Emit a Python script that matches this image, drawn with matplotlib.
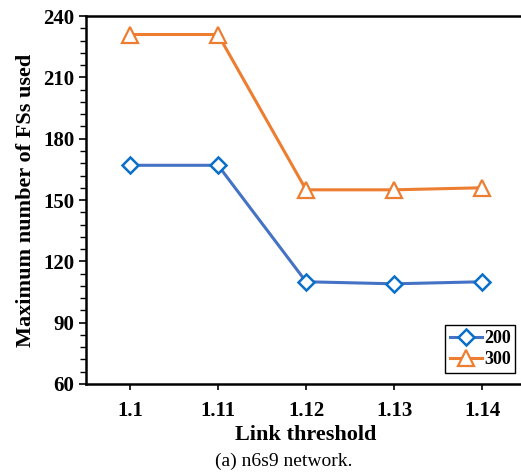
import matplotlib.pyplot as plt
from matplotlib.ticker import MultipleLocator

plt.rcParams['font.family'] = ['Liberation Serif', 'DejaVu Serif']

thresholds = ['1.1', '1.11', '1.12', '1.13', '1.14']
fs_200 = [167, 167, 110, 109, 110]
fs_300 = [231, 231, 155, 155, 156]

fig = plt.figure(figsize=(5.21, 4.74), dpi=100)
ax = fig.add_axes([0.165, 0.19, 0.845, 0.776])

x = range(len(thresholds))
ax.plot(x, fs_200, '-', color='#4472C4', linewidth=2.2, marker='D', markersize=8,
        markerfacecolor='white', markeredgecolor='#0A6FC9', markeredgewidth=1.8, label='200')
ax.plot(x, fs_300, '-', color='#ED7D31', linewidth=2.2, marker='^', markersize=12,
        markerfacecolor='white', markeredgecolor='#ED7D31', markeredgewidth=1.6, label='300')

ax.set_xlim(-0.5, 4.5)
ax.set_ylim(60, 240)
ax.set_xticks(list(x))
ax.set_xticklabels(thresholds)
ax.yaxis.set_major_locator(MultipleLocator(30))
ax.yaxis.set_minor_locator(MultipleLocator(6))

for s in ax.spines.values():
	s.set_linewidth(1.8)
ax.tick_params(axis='both', which='major', labelsize=15, width=1.2, length=5)
ax.tick_params(axis='y', which='minor', width=1, length=4)
ax.tick_params(axis='x', which='major', length=4, pad=8)
for lab in ax.get_xticklabels() + ax.get_yticklabels():
	lab.set_fontweight('bold')

ax.set_xlabel('Link threshold', fontsize=16, fontweight='bold', labelpad=3)
ax.set_ylabel('Maximum number of FSs used', fontsize=16, fontweight='bold', labelpad=5)

legend = ax.legend(loc='lower right', bbox_to_anchor=(0.975, 0.03), prop={'size': 13, 'weight': 'bold'},
                   fancybox=False, edgecolor='black', framealpha=1, handlelength=1.8,
                   handletextpad=0.1, borderpad=0.25, labelspacing=0.25, borderaxespad=0)
legend.get_frame().set_linewidth(1.0)

fig.text(0.545, 0.016, '(a) n6s9 network.', ha='center', fontsize=14)

fig.savefig('out.png', dpi=100)
plt.close(fig)
